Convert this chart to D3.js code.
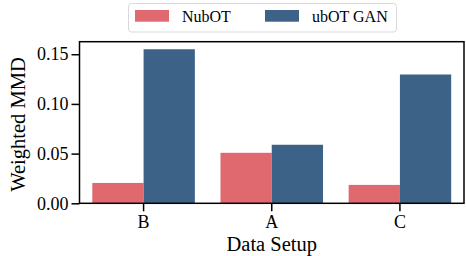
<!DOCTYPE html>
<html><head><meta charset="utf-8">
<script src="https://cdn.jsdelivr.net/npm/d3@7"></script>
<style>body{margin:0;background:#fff}svg{display:block}text{font-family:'Liberation Serif','Times New Roman',serif}</style>
</head><body>
<script>
const categories = ["B", "A", "C"];
const seriesNames = ["NubOT", "ubOT GAN"];
const nubotValues = [0.0205, 0.0508, 0.0185];
const ubotGanValues = [0.155, 0.0589, 0.1296];
const yTicks = [0.00, 0.05, 0.10, 0.15];
const colors = ["#e0686f", "#3d6288"];

const W = 466, H = 256;
const m = {left: 79.5, right: 464, top: 41.7, bottom: 203.3};
const font = "'Liberation Serif', 'Times New Roman', serif";

const svg = d3.select("body").append("svg").attr("width", W).attr("height", H);

const x = d3.scaleBand().domain(categories).range([m.left, m.right]).padding(0);
const xs = d3.scaleBand().domain(seriesNames).range([0, x.bandwidth()]).paddingOuter(0.25).paddingInner(0);
const y = d3.scaleLinear().domain([0, 0.1626]).range([m.bottom, m.top]);

const series = [nubotValues, ubotGanValues];
series.forEach((vals, si) => {
  svg.append("g").selectAll("rect").data(categories).join("rect")
    .attr("x", d => x(d) + xs(seriesNames[si]))
    .attr("width", xs.bandwidth())
    .attr("y", (d, i) => y(vals[i]))
    .attr("height", (d, i) => y(0) - y(vals[i]))
    .attr("fill", colors[si]);
});

// frame
svg.append("rect").attr("x", m.left).attr("y", m.top)
  .attr("width", m.right - m.left).attr("height", m.bottom - m.top)
  .attr("fill", "none").attr("stroke", "#000").attr("stroke-width", 1.5);

const xAxis = svg.append("g").attr("transform", `translate(0,${m.bottom})`)
  .call(d3.axisBottom(x).tickSize(8).tickPadding(4));
const yAxis = svg.append("g").attr("transform", `translate(${m.left},0)`)
  .call(d3.axisLeft(y).tickValues(yTicks).tickFormat(d3.format(".2f")).tickSize(8).tickPadding(3));
[xAxis, yAxis].forEach(a => {
  a.attr("font-family", font).attr("font-size", 18);
  a.select(".domain").remove();
  a.selectAll("line").attr("stroke", "#000").attr("stroke-width", 1.5);
  a.selectAll("text").attr("fill", "#000").attr("font-family", font).style("font-family", font).style("font-size", "18px");
});

svg.append("text").attr("x", (m.left + m.right) / 2).attr("y", 251)
  .attr("text-anchor", "middle").style("font-family", font).style("font-size", "20.5px")
  .text("Data Setup");
svg.append("text").attr("transform", `translate(24.5,${(m.top + m.bottom) / 2 + 2}) rotate(-90)`)
  .attr("text-anchor", "middle").style("font-family", font).style("font-size", "20.5px")
  .text("Weighted MMD");

// legend
const lg = svg.append("g");
lg.append("rect").attr("x", 128.5).attr("y", 3.5).attr("width", 268).attr("height", 28.5)
  .attr("rx", 3).attr("fill", "#fff").attr("stroke", "#d9d9d9").attr("stroke-width", 1);
const legX = [135, 265];
seriesNames.forEach((n, i) => {
  lg.append("rect").attr("x", legX[i]).attr("y", 10).attr("width", 34).attr("height", 11.7).attr("fill", colors[i]);
  lg.append("text").attr("x", legX[i] + 47).attr("y", 22).style("font-family", font).style("font-size", "16px").text(n);
});
</script>
</body></html>
